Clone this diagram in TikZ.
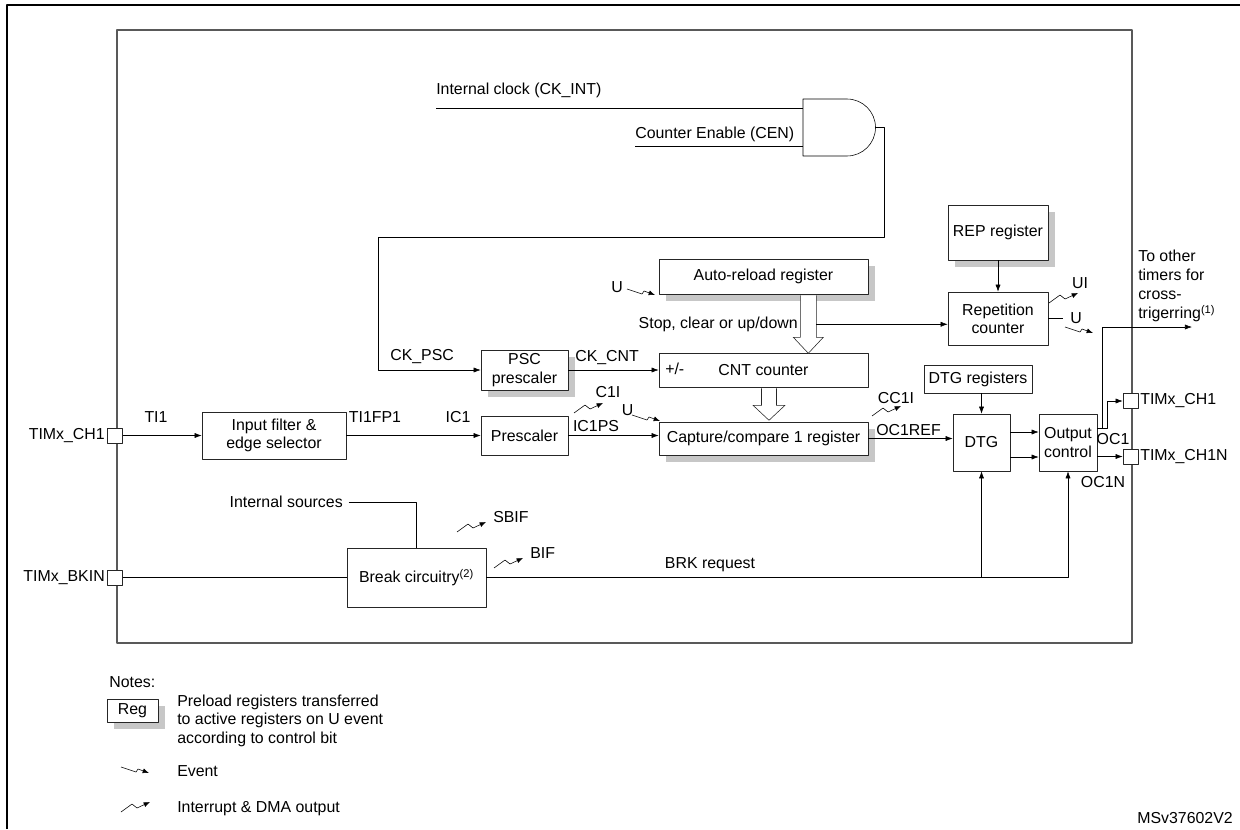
\documentclass[tikz,border=0pt]{standalone}
\usepackage{fontspec}
\setmainfont{Liberation Sans}
\usetikzlibrary{arrows.meta,shadows,calc}
\tikzset{
  blk/.style={draw=black!85, fill=white, align=center, inner sep=1pt},
  sz/.style 2 args={minimum width=#1*0.7113pt, minimum height=#2*0.7113pt},
  shd/.style={drop shadow={shadow xshift=5pt, shadow yshift=-5pt, fill=black!22, opacity=1}},
  pad/.style={draw=black!85, fill=white, minimum size=10.7pt, inner sep=0pt},
  hol/.style={draw=black!85, fill=white, line join=miter},
  lbl/.style={inner sep=0pt},
  evt/.pic={\draw[-{Latex[length=4.5pt,width=3.5pt]}] (0,0) -- (15,5) -- (17,2) -- (28,6);},
  irq/.pic={\draw[-{Latex[length=4.5pt,width=3.5pt]}] (0,0) -- (11,-8) -- (16,-4) -- (29,-10);},
}
\begin{document}
\begin{tikzpicture}[x=0.025cm, y=-0.025cm, font=\fontsize{11.3}{13}\selectfont,
    line join=round, >={Latex[length=5pt,width=3.6pt]}]
  \useasboundingbox (0,0) rectangle (1240,829);
  % frames
  \draw[line width=1.6pt] (7,829) -- (7,5) -- (1240,5);
  \draw[black!65, line width=0.9pt] (117,30) rectangle (1132,643);

  % clock gate
  \coordinate (andg) at (803,99);
  \coordinate (andout) at (875.5,127.5);
  \coordinate (ckint) at (436,108);
  \coordinate (cen) at (635,146);
  \draw (andg) -- ++(44,0) arc[start angle=-90, end angle=90, radius=28.5] -- ++(-44,0) -- cycle;
  \draw (ckint) -- (ckint -| andg);
  \draw (cen) -- (cen -| andg);
  \node[lbl, anchor=west] at (436,90) {Internal clock (CK\_INT)};
  \node[lbl, anchor=west] at (635,134) {Counter Enable (CEN)};

  % boxes
  \node[blk, shd, sz={209}{35}] (arr) at (763.5,276.5) {Auto-reload register};
  \node[blk, shd, sz={87}{40}] (psc) at (524.5,370) {PSC\\prescaler};
  \node[blk, sz={209}{34}] (cnt) at (763.5,370) {CNT counter};
  \node[blk, shd, sz={209}{33}] (ccr) at (763.5,438.5) {Capture/compare 1 register};
  \node[blk, sz={87}{39}] (presc) at (524.5,435.5) {Prescaler};
  \node[blk, sz={144}{47}] (filt) at (274,435.5) {Input filter \&\\edge selector};
  \node[blk, sz={139}{59}] (brk) at (416.5,577.5) {Break circuitry\textsuperscript{(2)}};
  \node[blk, shd, sz={100}{55}] (rep) at (998,232.5) {REP register};
  \node[blk, sz={100}{53}] (rcnt) at (998,318.5) {Repetition\\counter};
  \node[blk, sz={108}{28}] (dtgr) at (978,379) {DTG registers};
  \node[blk, sz={57}{57}] (dtg) at (981.5,442.5) {DTG};
  \node[blk, sz={58}{57}, align=left] (outc) at (1068,442.5) {Output\\control};

  % pads
  \node[pad] (pch1) at (115,435.5) {};
  \node[pad] (pbkin) at (115,577.5) {};
  \node[pad] (poch1) at (1130.5,401) {};
  \node[pad] (poch1n) at (1130.5,456.5) {};
  \node[lbl, anchor=east] at (105,435.5) {TIMx\_CH1};
  \node[lbl, anchor=east] at (105,577.5) {TIMx\_BKIN};
  \node[lbl, anchor=west] at (1140,401) {TIMx\_CH1};
  \node[lbl, anchor=west] at (1140,456.5) {TIMx\_CH1N};

  % counter clock
  \coordinate (ckr) at (884,237);
  \coordinate (ckl) at (378,237);
  \draw[->] (andout) -| (ckr) -- (ckl) |- (psc.west);
  \node[lbl, anchor=west] at (390,357) {CK\_PSC};
  \draw[->] (psc.east) -- (cnt.west);
  \node[lbl, anchor=west] at (575,358) {CK\_CNT};
  \node[lbl, anchor=west] at (665,369) {+/-};

  % auto-reload
  \node[lbl] at (617,287) {U};
  \pic at (627,289) {evt};
  \coordinate (hA) at ($(arr.south east)+(-60,0)$);
  \draw[hol] (hA) ++(-8,1) -- ++(0,42) -- ++(-7,0) -- ++(15,16) -- ++(15,-16) -- ++(-7,0) -- ++(0,-42);
  \coordinate (stopj) at ($(hA)+(8,30)$);
  \draw[->] (stopj) -- (stopj -| rcnt.west);
  \node[lbl, anchor=east] at (798,324) {Stop, clear or up/down};
  \coordinate (hB) at ($(cnt.south)+(5.5,0)$);
  \draw[hol] (hB) ++(-7.5,1) -- ++(0,17) -- ++(-8.5,0) -- ++(16,15) -- ++(16,-15) -- ++(-8.5,0) -- ++(0,-17);

  % input chain
  \draw[->] (pch1.east) -- (filt.west);
  \node[lbl] at (156,417) {TI1};
  \draw[->] (filt.east) -- (presc.west);
  \node[lbl] at (375,417) {TI1FP1};
  \node[lbl] at (458,417) {IC1};
  \draw[->] (presc.east) -- (presc.east -| ccr.west);
  \node[lbl] at (596,426.5) {IC1PS};
  \node[lbl] at (608,392) {C1I};
  \pic at (574,413) {irq};
  \node[lbl] at (627.5,410.5) {U};
  \pic at (632,415) {evt};

  % outputs
  \draw[->] (ccr.east) -- (ccr.east -| dtg.west);
  \node[lbl, anchor=west] at (876,430) {OC1REF};
  \node[lbl] at (896,398) {CC1I};
  \pic at (872,416) {irq};
  \draw[->] (dtg.north |- dtgr.south) -- (dtg.north);
  \draw[->] ($(dtg.east)+(0,-10.5)$) -- ($(outc.west)+(0,-10.5)$);
  \draw[->] ($(dtg.east)+(0,14.5)$) -- ($(outc.west)+(0,14.5)$);
  \coordinate (oc1) at ($(outc.east)+(0,-14)$);
  \coordinate (xtrig) at (1192,327);
  \draw[->] (oc1) -- ++(5,0) |- (xtrig);
  \draw[->] (oc1) -- ++(10,0) |- (poch1.west);
  \node[lbl] at (1113,439) {OC1};
  \draw[->] ($(outc.east)+(0,14)$) -- (poch1n.west);
  \node[lbl] at (1103,482) {OC1N};
  \node[lbl, anchor=west, align=left, font=\fontsize{11.3}{13.5}\selectfont] at (1138,286)
    {To other\\timers for\\cross-\\trigerring\textsuperscript{(1)}};

  % repetition
  \draw[->] (rep) -- (rcnt);
  \draw (rcnt.east) -- ++(15,0);
  \node[lbl] at (1076,318) {U};
  \pic at (1065,327) {evt};
  \node[lbl] at (1080,283) {UI};
  \pic at (1049,303) {irq};

  % break
  \draw (pbkin.east) -- (brk.west);
  \node[lbl, anchor=east] (isrc) at (343,502) {Internal sources};
  \draw ([xshift=4pt]isrc.east) -| (brk.north);
  \pic at (457,532) {irq};
  \node[lbl, anchor=west] at (493,517) {SBIF};
  \pic at (494,568) {irq};
  \node[lbl, anchor=west] at (530,553) {BIF};
  \node[lbl] at (710,565) {BRK request};
  \draw[->] (brk.east) -| (outc.south);
  \draw[->] (brk.east -| dtg.south) -- (dtg.south);

  % notes
  \node[lbl, anchor=west] at (109,682) {Notes:};
  \node[blk, shd, sz={51}{23}] (reg) at (132.5,710.5) {Reg};
  \node[lbl, anchor=west, align=left, font=\fontsize{11.3}{13.2}\selectfont] at (177,720.5)
    {Preload registers transferred\\to active registers on U event\\according to control bit};
  \pic at (121,767) {evt};
  \node[lbl, anchor=west] at (177,771) {Event};
  \pic at (121,812) {irq};
  \node[lbl, anchor=west] at (177,809) {Interrupt \& DMA output};
  \node[lbl, anchor=east] at (1233,818) {MSv37602V2};
\end{tikzpicture}
\end{document}
